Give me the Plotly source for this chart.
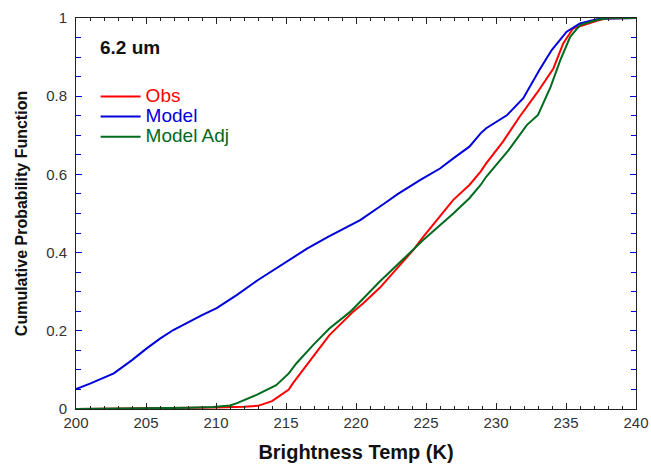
import plotly.graph_objects as go

# Brightness temperature (K) and cumulative probability values
obs_t = [200, 208, 210, 212, 213, 214, 214.6, 215.2, 215.5, 216.95, 218.1, 219.8, 220.5, 221.7,
         224.1, 224.8, 226.95, 228.1, 228.9, 229.3, 230.5, 231.7, 232.9, 234.1, 234.8, 235.5,
         236.2, 237.2, 237.9, 240]
obs_p = [0, 0.002, 0.004, 0.006, 0.008, 0.02, 0.036, 0.05, 0.066, 0.134, 0.189, 0.249, 0.27, 0.31,
         0.407, 0.44, 0.535, 0.573, 0.607, 0.628, 0.684, 0.748, 0.807, 0.871, 0.935, 0.973,
         0.982, 0.993, 0.999, 1.0]

model_t = [200, 201, 202.7, 204, 205.05, 206, 206.95, 208, 209, 210.05, 211.5, 213, 213.9, 215.2,
           216.5, 218, 220.3, 222, 223, 224.6, 226, 226.95, 228.1, 228.9, 229.3, 230.8, 231.95,
           233.1, 233.98, 235.05, 236, 237.2, 238, 240]
model_p = [0.051, 0.065, 0.091, 0.125, 0.155, 0.18, 0.202, 0.222, 0.24, 0.258, 0.292, 0.33, 0.351,
           0.381, 0.41, 0.44, 0.483, 0.525, 0.55, 0.586, 0.615, 0.641, 0.671, 0.705, 0.718, 0.752,
           0.795, 0.867, 0.918, 0.965, 0.986, 0.997, 0.999, 1.0]

adj_t = [200, 205, 206, 208, 209.8, 211, 211.5, 212.9, 214.3, 215.2, 215.75, 216.95, 218.1, 219.6,
         221.7, 224.1, 224.8, 226.95, 228.1, 228.9, 229.3, 230.9, 232.2, 233.0, 233.9, 234.6,
         235.3, 236.0, 237.2, 238, 240]
adj_p = [0, 0.001, 0.002, 0.003, 0.005, 0.009, 0.015, 0.036, 0.061, 0.091, 0.117, 0.164, 0.206, 0.249,
         0.326, 0.407, 0.432, 0.5, 0.539, 0.573, 0.594, 0.662, 0.726, 0.752, 0.824, 0.893,
         0.952, 0.982, 0.995, 1.0, 1.0]

series_names = ["Obs", "Model", "Model Adj"]
series_colors = ["#ff0000", "#0000dd", "#006a1e"]

fig = go.Figure()
for t, p, name, col in [(obs_t, obs_p, series_names[0], series_colors[0]),
                        (model_t, model_p, series_names[1], series_colors[1]),
                        (adj_t, adj_p, series_names[2], series_colors[2])]:
    fig.add_trace(go.Scatter(x=t, y=p, mode="lines",
                             name=f"<span style='color:{col};font-size:19px'>{name}</span>",
                             line=dict(color=col, width=2)))

font_family = "Liberation Sans, Arial, sans-serif"

fig.update_layout(
    width=651, height=466,
    margin=dict(l=76, r=15, t=18, b=57),
    paper_bgcolor="white", plot_bgcolor="white",
    showlegend=True,
    legend=dict(x=0.035, y=0.838, xanchor="left", yanchor="top",
                bgcolor="rgba(0,0,0,0)", font=dict(size=13.2, family=font_family),
                itemwidth=40, tracegroupgap=0),
    font=dict(family=font_family, color="#333333"),
)

fig.update_xaxes(
    range=[200, 240], dtick=5, tick0=200,
    ticks="inside", ticklen=6, tickcolor="#222222", tickwidth=1,
    minor=dict(dtick=1, ticks="inside", ticklen=3, tickcolor="#222222"),
    showline=True, linecolor="#222222", linewidth=1, mirror="ticks",
    showgrid=False, zeroline=False, automargin=False,
    tickfont=dict(size=15, color="#333333"),
    title=dict(text="<b>Brightness Temp (K)</b>", font=dict(size=20, color="#111111"), standoff=14),
)
fig.update_yaxes(
    range=[0, 1], dtick=0.2, tick0=0,
    ticks="inside", ticklen=6, tickcolor="#0000dd", tickwidth=1,
    minor=dict(dtick=0.05, ticks="inside", ticklen=5, tickcolor="#0000dd"),
    showline=True, linecolor="#222222", linewidth=1, mirror="ticks",
    showgrid=False, zeroline=False, automargin=False,
    ticklabelstandoff=5,
    tickfont=dict(size=15, color="#333333"),
    title=dict(text="<b>Cumulative Probability Function</b>", font=dict(size=16, color="#111111"), standoff=14),
)

fig.add_annotation(x=0.04, y=0.925, xref="paper", yref="paper", xanchor="left", yanchor="middle",
                   text="<b>6.2 um</b>", showarrow=False,
                   font=dict(size=19, color="#111111", family=font_family))

fig.write_html("out.html")
